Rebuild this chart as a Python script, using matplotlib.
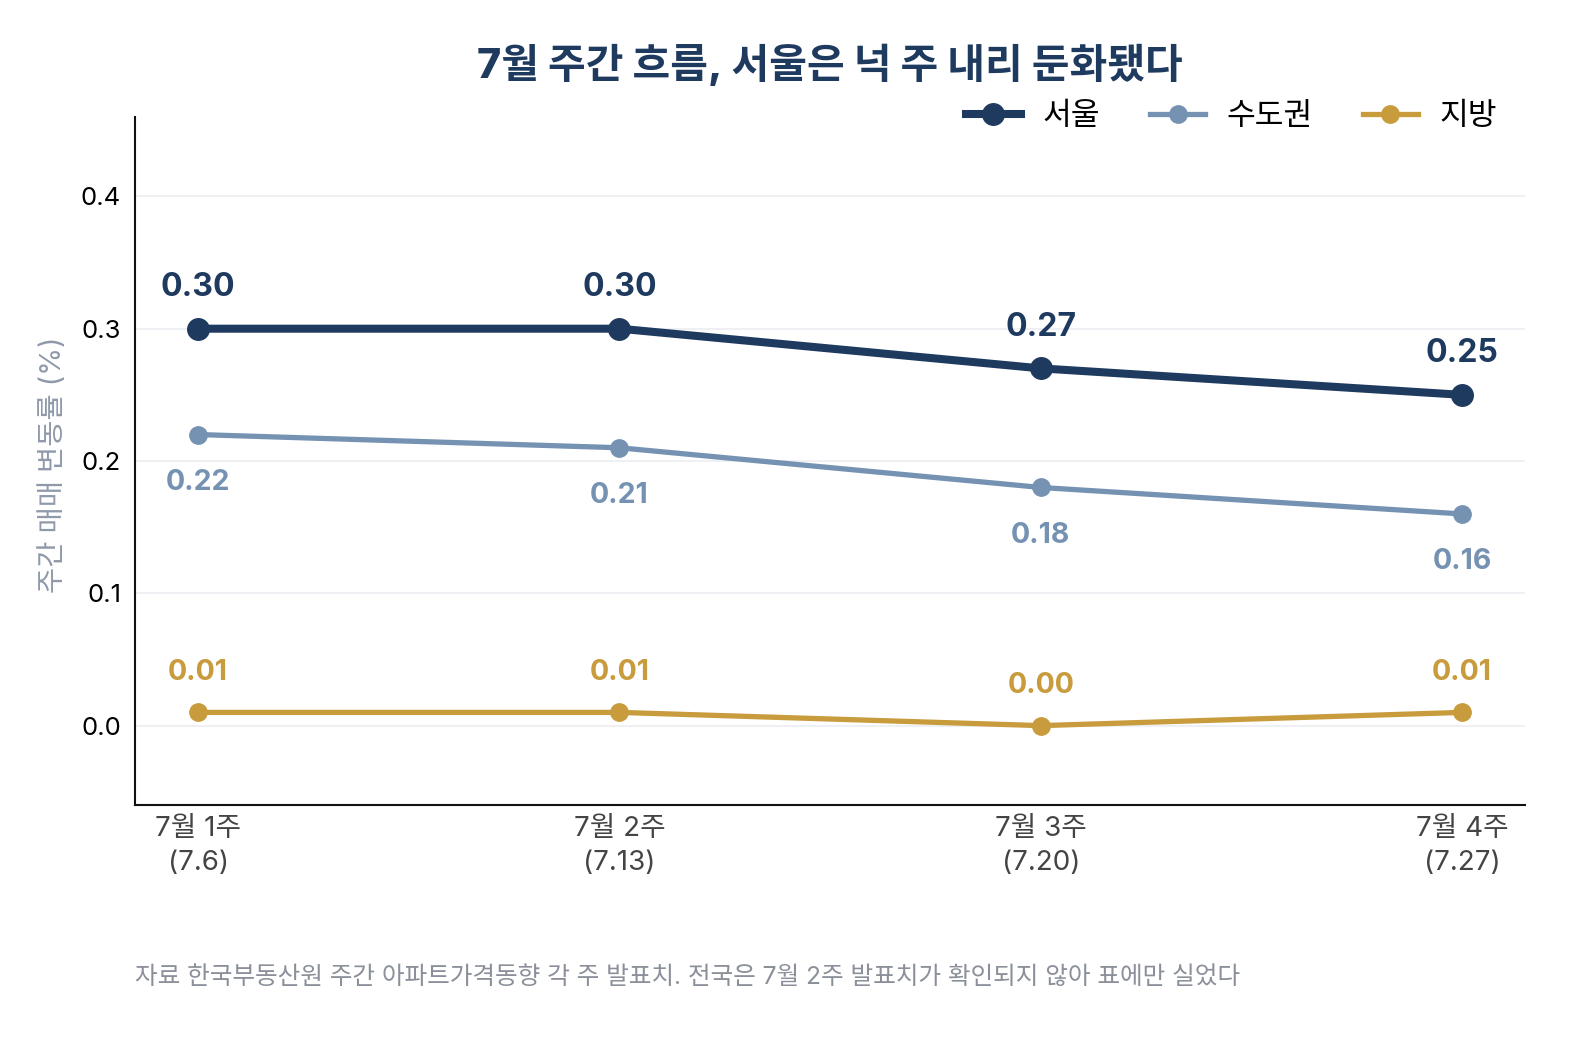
import numpy as np
import matplotlib
matplotlib.use("Agg")
import matplotlib.pyplot as plt

plt.rcParams["font.family"] = ["Inter", "Noto Sans CJK KR", "DejaVu Sans"]

# --------------------------------------------------
# Data
# --------------------------------------------------
weeks = ["7월 1주\n(7.6)", "7월 2주\n(7.13)", "7월 3주\n(7.20)", "7월 4주\n(7.27)"]
seoul = [0.30, 0.30, 0.27, 0.25]
metro = [0.22, 0.21, 0.18, 0.16]
local = [0.01, 0.01, 0.00, 0.01]

c_seoul = "#1f3a5f"
c_metro = "#7592b3"
c_local = "#c89b3c"

x = np.arange(len(weeks))

fig = plt.figure(figsize=(15.74, 10.39), dpi=100)
ax = fig.add_axes([0.0858, 0.2252, 0.8832, 0.6622])

ax.plot(x, seoul, color=c_seoul, lw=5.8, marker="o", ms=15.5, label="서울", zorder=4)
ax.plot(x, metro, color=c_metro, lw=3.8, marker="o", ms=12.5, label="수도권", zorder=3)
ax.plot(x, local, color=c_local, lw=3.8, marker="o", ms=12.5, label="지방", zorder=3)

# value labels
for i, v in enumerate(seoul):
    ax.annotate(f"{v:.2f}", (x[i], v), xytext=(0, 41), textcoords="offset pixels",
                ha="center", va="center", fontsize=23, fontweight="bold", color=c_seoul)
for i, v in enumerate(metro):
    ax.annotate(f"{v:.2f}", (x[i], v), xytext=(0, -48), textcoords="offset pixels",
                ha="center", va="center", fontsize=20.5, fontweight="bold", color=c_metro)
for i, v in enumerate(local):
    ax.annotate(f"{v:.2f}", (x[i], v), xytext=(0, 40), textcoords="offset pixels",
                ha="center", va="center", fontsize=20.5, fontweight="bold", color=c_local)

ax.set_xlim(-0.15, 3.15)
ax.set_ylim(-0.06, 0.46)
ax.set_yticks([0.0, 0.1, 0.2, 0.3, 0.4])
ax.set_yticklabels(["0.0", "0.1", "0.2", "0.3", "0.4"])
ax.set_xticks(x)
ax.set_xticklabels(weeks, color="#444444", linespacing=1.4)
ax.tick_params(axis="both", length=0)
ax.tick_params(axis="x", pad=8, labelsize=20)
ax.tick_params(axis="y", pad=10, labelsize=18.5)

ax.grid(axis="y", color="#eef0f4", lw=1.4)
ax.set_axisbelow(True)
for s in ["top", "right"]:
    ax.spines[s].set_visible(False)
for s in ["left", "bottom"]:
    ax.spines[s].set_color("#111111")
    ax.spines[s].set_linewidth(1.5)

ax.set_ylabel("주간 매매 변동률 (%)", fontsize=20.5, color="#8f99aa")
ax.yaxis.set_label_coords(-0.049, 0.494)

ax.legend(loc="center right", bbox_to_anchor=(1.0, 1.0), ncol=3, frameon=False,
          fontsize=22.5, handlelength=1.75, columnspacing=1.6, handletextpad=0.7)

fig.text(0.5273, 0.9374, "7월 주간 흐름, 서울은 넉 주 내리 둔화됐다", ha="center", va="center",
         fontsize=29.5, fontweight="heavy", color=c_seoul)

fig.text(0.0858, 1 - 977 / 1039, "자료 한국부동산원 주간 아파트가격동향 각 주 발표치. 전국은 7월 2주 발표치가 확인되지 않아 표에만 실었다",
         ha="left", va="center", fontsize=17.75, color="#8a8f99")

plt.savefig("out.png", dpi=100)
plt.close()
